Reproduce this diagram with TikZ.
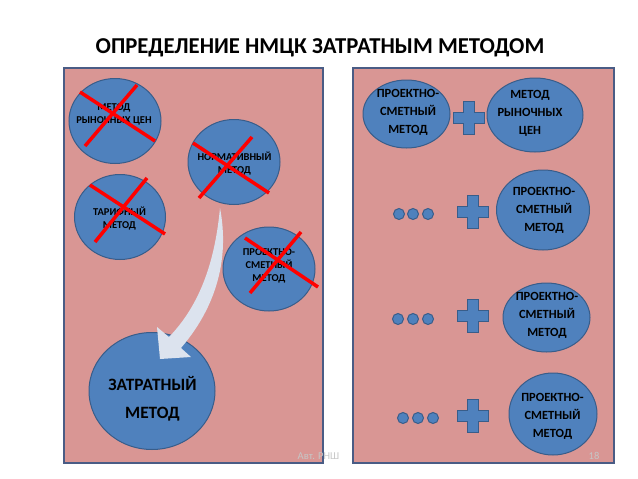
\documentclass[tikz,border=0pt]{standalone}
\usepackage{fontspec}
\setmainfont{Carlito}
\usetikzlibrary{shapes.geometric}
\definecolor{panelfill}{HTML}{D99694}
\definecolor{panelline}{HTML}{4A5C85}
\definecolor{discfill}{HTML}{4F81BD}
\definecolor{discline}{HTML}{385D8A}
\definecolor{arrowfill}{HTML}{DCE3EE}

\begin{document}
\begin{tikzpicture}[x=1pt, y=-1pt,
  panel/.style={draw=panelline, fill=panelfill, line width=1.5pt},
  disc/.style={ellipse, draw=discline, fill=discfill, line width=1pt, inner sep=0pt},
  txts/.style={align=center, font=\bfseries\fontsize{10.5}{13}\selectfont},
  txtm/.style={align=center, font=\bfseries\fontsize{12.5}{18}\selectfont},
  txtl/.style={align=center, font=\bfseries\fontsize{17.3}{28}\selectfont},
  redx/.style={draw=red, line width=3.5pt},
  bead/.style={circle, draw=discline, fill=discfill, line width=1pt,
               minimum size=11pt, inner sep=0pt},
  plussign/.pic={\path[draw=discline, fill=discfill, line width=1pt]
    (-5.5,-16.5) -- (5.5,-16.5) -- (5.5,-5.5) -- (15.5,-5.5) -- (15.5,5.5)
    -- (5.5,5.5) -- (5.5,16.5) -- (-5.5,16.5) -- (-5.5,5.5) -- (-15.5,5.5)
    -- (-15.5,-5.5) -- (-5.5,-5.5) -- cycle;}]
\useasboundingbox (0,0) rectangle (638,479);
% title
\node[font=\bfseries\fontsize{22.7}{24}\selectfont] (title) at (320,48)
  {ОПРЕДЕЛЕНИЕ НМЦК ЗАТРАТНЫМ МЕТОДОМ};
% two panels
\draw[panel] (64,68) rectangle (323,463);
\draw[panel] (353,68) rectangle (614,463);
% left panel: rejected methods
\node[disc, minimum width=92pt, minimum height=85pt] (rynok) at (115,121) {};
\node[txts] (rynoktxt) at (114,114.5) {МЕТОД\\РЫНОЧНЫХ ЦЕН};
\node[disc, minimum width=92pt, minimum height=85pt] (norm) at (234,162) {};
\node[txts] (normtxt) at (234.5,163.5) {НОРМАТИВНЫЙ\\МЕТОД};
\node[disc, minimum width=91pt, minimum height=85pt] (tarif) at (120,217) {};
\node[txts] (tariftxt) at (119.5,218.5) {ТАРИФНЫЙ\\МЕТОД};
\node[disc, minimum width=92pt, minimum height=84pt] (psm) at (269,269) {};
\node[txts] (psmtxt) at (269,266) {ПРОЕКТНО-\\СМЕТНЫЙ\\МЕТОД};
\draw[redx] (80,92) -- (155,141);   \draw[redx] (85,146) -- (137,85);
\draw[redx] (193,143) -- (269,193); \draw[redx] (199,198) -- (252,137);
\draw[redx] (90,185) -- (165,234);  \draw[redx] (95,242) -- (147,178);
\draw[redx] (245,238) -- (318,287); \draw[redx] (250,293) -- (301,232);
% chosen method
\node[disc, minimum width=126pt, minimum height=117pt] (zatr) at (152,391) {};
\node[txtl] (zatrtxt) at (152.5,399) {ЗАТРАТНЫЙ\\МЕТОД};
% curved block arrow
\fill[arrowfill] (220,208) .. controls (228,250) and (222,300) .. (181,348)
  -- (191,357) -- (160,359) -- (157,327) -- (169,337)
  .. controls (205,300) and (216,250) .. (220,208) -- cycle;
% right panel: combinations
\node[disc, minimum width=87pt, minimum height=68pt] (proj1) at (406.5,114) {};
\node[txtm] (proj1txt) at (408,112) {ПРОЕКТНО-\\СМЕТНЫЙ\\МЕТОД};
\node[disc, minimum width=96pt, minimum height=74pt] (rynok2) at (535,115) {};
\node[txtm] (rynok2txt) at (530,113.5) {МЕТОД\\РЫНОЧНЫХ\\ЦЕН};
\node[disc, minimum width=93pt, minimum height=80pt] (proj2) at (543,210) {};
\node[txtm] (proj2txt) at (544,210) {ПРОЕКТНО-\\СМЕТНЫЙ\\МЕТОД};
\node[disc, minimum width=87pt, minimum height=69pt] (proj3) at (546.5,317.5) {};
\node[txtm] (proj3txt) at (547,315) {ПРОЕКТНО-\\СМЕТНЫЙ\\МЕТОД};
\node[disc, minimum width=88pt, minimum height=82pt] (proj4) at (553,414) {};
\node[txtm] (proj4txt) at (552.5,416) {ПРОЕКТНО-\\СМЕТНЫЙ\\МЕТОД};
\pic at (469,117.5) {plussign};
\pic at (473,212) {plussign};
\pic at (473,316) {plussign};
\pic at (473,416) {plussign};
\node[bead] (d1a) at (399,214) {}; \node[bead] (d1b) at (413,214) {}; \node[bead] (d1c) at (428,214) {};
\node[bead] (d2a) at (398,319) {}; \node[bead] (d2b) at (413,319) {}; \node[bead] (d2c) at (428,319) {};
\node[bead] (d3a) at (403,418) {}; \node[bead] (d3b) at (418,418) {}; \node[bead] (d3c) at (433,418) {};
% footer
\node[font=\fontsize{10.5}{12}\selectfont, text=gray!45] (author) at (318.5,456) {Авт. РНШ};
\node[font=\fontsize{10.5}{12}\selectfont, text=gray!45] (page) at (594,456) {18};
\end{tikzpicture}
\end{document}
